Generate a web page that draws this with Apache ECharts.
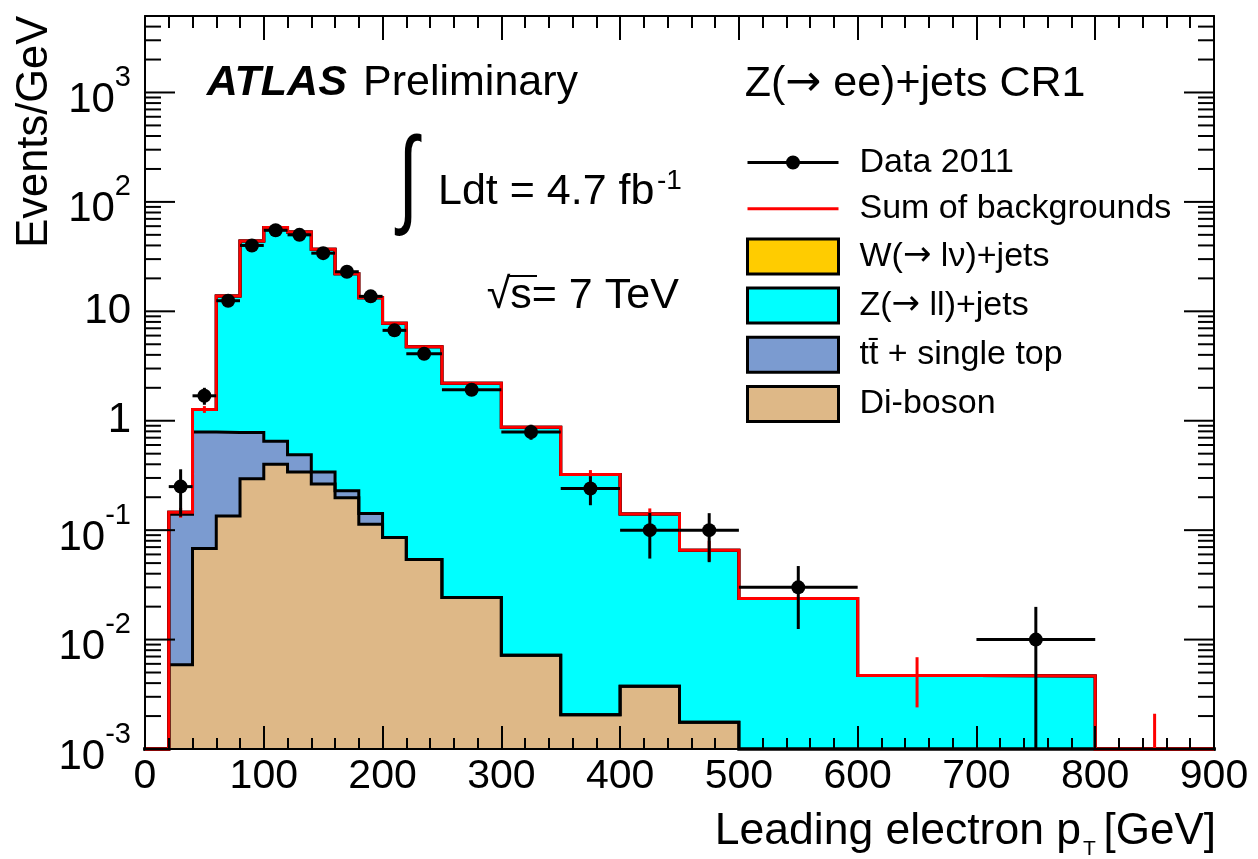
<!DOCTYPE html>
<html><head><meta charset="utf-8">
<script src="https://cdn.jsdelivr.net/npm/echarts@6/dist/echarts.min.js"></script>
<style>html,body{margin:0;padding:0;background:#fff}#c{width:1258px;height:859px}</style>
</head><body><div id="c"></div>
<script>
// ---- data (Events/GeV) ----
const binEdges = [20,40,60,80,100,120,140,160,180,200,220,250,300,350,400,450,500,600,700,800,900];
const diboson = [0.0059,0.068,0.135,0.295,0.40,0.34,0.264,0.198,0.113,0.0857,0.054,0.0242,0.0072,0.00206,0.00374,0.00176,0,0,0,0];
const ttbar   = [0.134,0.722,0.645,0.485,0.248,0.15,0.076,0.031,0.029,0,0,0,0,0,0,0,0,0,0,0];
const zjets   = [0.006,0.48,13.02,43.2,57.65,52.5,36.66,21.87,13.16,7.71,4.70,2.18,0.863,0.321,0.137,0.0637,0.0237,0.0047,0.00465,0];
const wjets   = [0,0,0,0,0,0,0,0,0,0,0,0,0,0,0,0,0,0,0,0];

const dataX  = [30,50,70,90,110,130,150,170,190,210,235,275,325,375,425,475,550,750];
const dataY  = [0.25,1.69,12.5,40,55,50,34,23,13.7,6.7,4.1,1.92,0.79,0.24,0.10,0.10,0.030,0.010];
const dataLo = [0.133,1.40,11.8,38.6,53.3,48.4,32.7,21.9,12.9,6.1,3.73,1.72,0.67,0.169,0.055,0.051,0.0125,0.0005];
const dataHi = [0.36,2.0,13.3,41.4,56.7,51.6,35.3,24.1,14.5,7.3,4.47,2.12,0.92,0.311,0.144,0.143,0.047,0.0199];

const mcErrX  = [30,50,375,425,475,650,850];
const mcErrLo = [0.13,1.18,0.29,0.124,0.052,0.0024,0.0005];
const mcErrHi = [0.16,1.36,0.354,0.158,0.08,0.0069,0.0021];

const xTickLabels = ['0','100','200','300','400','500','600','700','800','900'];
const yMajorTicks = [0.001,0.01,0.1,1,10,100,1000];

const YMIN = 0.001, YMAX = 5000, XMIN = 0, XMAX = 900;
const FONT = '"Liberation Sans", Arial, Helvetica, sans-serif';
const AFONT = '"DejaVu Sans", sans-serif';

// ---- helpers ----
function cumulative(...arrs){ return arrs[0].map((_, i) => arrs.reduce((s, a) => s + a[i], 0)); }
function stepData(vals){
  const d = [[XMIN, YMIN]];
  vals.forEach((v, i) => d.push([binEdges[i], Math.max(v, YMIN)]));
  d.push([binEdges[binEdges.length - 1], Math.max(vals[vals.length - 1], YMIN)]);
  d.push([XMAX, YMIN]);
  return d;
}
function binOf(x){ for (let i = 0; i < binEdges.length - 1; i++) if (x >= binEdges[i] && x < binEdges[i+1]) return i; return -1; }

const cDb = cumulative(diboson);
const cTt = cumulative(diboson, ttbar);
const cZ  = cumulative(diboson, ttbar, zjets);
const cW  = cumulative(diboson, ttbar, zjets, wjets);

const yMinorTicks = [];
yMajorTicks.forEach(d => { for (let m = 2; m <= 9; m++) { const v = m * d; if (v < YMAX) yMinorTicks.push(v); } });

function histSeries(name, vals, fill, lineColor){
  return {
    name, type: 'line', step: 'end', data: stepData(vals), symbol: 'none', showSymbol: false,
    clip: false, silent: true,
    lineStyle: { color: lineColor, width: 3, join: 'miter', cap: 'square' },
    itemStyle: { color: fill },
    areaStyle: { color: fill, opacity: 1, origin: 'start' },
    z: 2
  };
}

const LINE_ICON = 'path://M0,0 L91,0 L91,3 L0,3 Z';
const DATA_ICON = 'path://M0,6 L91,6 L91,9 L0,9 Z M38.5,7.5 A7,7 0 1,1 52.5,7.5 A7,7 0 1,1 38.5,7.5 Z';

const labelFmt = v => {
  const lg = Math.log10(v), k = Math.round(lg);
  if (Math.abs(lg - k) > 1e-6) return '';
  if (k === 0) return '1';
  if (k === 1) return '10';
  return '{b|10}{s|' + k + '}';
};
const arrowFmt = name => name.replace('→', '{ar|→}');

const xAxisBase = {
  type: 'value', min: XMIN, max: XMAX, interval: 100, z: 10,
  axisLine: { show: true, onZero: false, lineStyle: { color: '#000', width: 2 } },
  splitLine: { show: false }, minorSplitLine: { show: false }
};

const option = {
  animation: false,
  backgroundColor: '#fff',
  grid: { left: 145, right: 44, top: 16, bottom: 110, containLabel: false },
  xAxis: [
    Object.assign({}, xAxisBase, {
      position: 'bottom',
      axisTick: { show: true, inside: true, length: 23, lineStyle: { color: '#000', width: 2 } },
      minorTick: { show: true, splitNumber: 5, length: 11, lineStyle: { color: '#000', width: 2 } },
      axisLabel: { show: true, margin: 7, fontSize: 41, fontFamily: FONT, color: '#000',
        formatter: v => xTickLabels[Math.round(v / 100)] }
    }),
    Object.assign({}, xAxisBase, {
      position: 'top',
      axisTick: { show: true, inside: true, length: 24, lineStyle: { color: '#000', width: 2 } },
      minorTick: { show: true, splitNumber: 5, length: 12, lineStyle: { color: '#000', width: 2 } },
      axisLabel: { show: false }
    })
  ],
  yAxis: [
    { type: 'log', logBase: 10, min: YMIN, max: YMAX, position: 'left', z: 10, splitNumber: 7,
      axisLine: { show: true, onZero: false, lineStyle: { color: '#000', width: 2 } },
      axisTick: { show: false }, splitLine: { show: false },
      axisLabel: { show: true, margin: 14, fontSize: 42, fontFamily: FONT, color: '#000', formatter: labelFmt,
        rich: {
          b: { fontSize: 42, fontFamily: FONT, color: '#000', lineHeight: 58, verticalAlign: 'bottom' },
          s: { fontSize: 29, fontFamily: FONT, color: '#000', lineHeight: 29, verticalAlign: 'top' }
        } } },
    { type: 'log', logBase: 10, min: YMIN, max: YMAX, position: 'right', z: 10,
      axisLine: { show: true, onZero: false, lineStyle: { color: '#000', width: 2 } },
      axisTick: { show: false }, splitLine: { show: false }, axisLabel: { show: false } }
  ],
  legend: {
    orient: 'vertical', left: 746, top: 145, padding: 0,
    itemWidth: 91, itemHeight: 35, itemGap: 11.2, selectedMode: false,
    formatter: arrowFmt,
    textStyle: { fontSize: 34, lineHeight: 35, fontFamily: FONT, color: '#000', padding: [0, 0, 0, 16],
      rich: { ar: { fontSize: 34, lineHeight: 35, fontFamily: AFONT, color: '#000' } } },
    data: [
      { name: 'Data 2011', icon: DATA_ICON, itemStyle: { color: '#000', borderWidth: 0 } },
      { name: 'Sum of backgrounds', icon: LINE_ICON, itemStyle: { color: '#ff0000', borderWidth: 0 } },
      { name: 'W(→ lν)+jets', icon: 'rect', itemStyle: { color: '#ffcc00', borderColor: '#000', borderWidth: 3 } },
      { name: 'Z(→ ll)+jets', icon: 'rect', itemStyle: { color: '#00ffff', borderColor: '#000', borderWidth: 3 } },
      { name: 'tt\u0304 + single top', icon: 'rect', itemStyle: { color: '#7b9bd0', borderColor: '#000', borderWidth: 3 } },
      { name: 'Di-boson', icon: 'rect', itemStyle: { color: '#deb887', borderColor: '#000', borderWidth: 3 } }
    ]
  },
  series: [
    histSeries('W(→ lν)+jets', cW, '#ffcc00', '#000'),
    histSeries('Z(→ ll)+jets', cZ, '#00ffff', '#000'),
    histSeries('tt\u0304 + single top', cTt, '#7b9bd0', '#000'),
    histSeries('Di-boson', cDb, '#deb887', '#000'),
    {
      name: 'Sum of backgrounds', type: 'line', step: 'end', data: stepData(cW), symbol: 'none',
      clip: false, silent: true, z: 3,
      lineStyle: { color: '#ff0000', width: 3, join: 'miter' }, itemStyle: { color: '#ff0000' }
    },
    {
      name: 'mcerr', type: 'custom', z: 4, silent: true, clip: false,
      data: mcErrX.map((x, i) => [x, mcErrLo[i], mcErrHi[i]]),
      encode: { x: 0, y: 1 },
      renderItem: (params, api) => {
        const x = api.value(0);
        const b = api.coord([x, Math.max(api.value(1), YMIN)]);
        const t = api.coord([x, api.value(2)]);
        return { type: 'line', shape: { x1: b[0], y1: b[1], x2: t[0], y2: t[1] },
          style: { stroke: '#ff0000', lineWidth: 3 } };
      }
    },
    {
      name: 'Data 2011', type: 'custom', z: 6, silent: true, clip: false,
      itemStyle: { color: '#000' },
      data: dataX.map((x, i) => { const k = binOf(x); return [x, dataY[i], binEdges[k], binEdges[k+1], dataLo[i], dataHi[i]]; }),
      encode: { x: 0, y: 1 },
      renderItem: (params, api) => {
        const x = api.value(0), y = api.value(1);
        const c = api.coord([x, y]);
        const l = api.coord([api.value(2), y]);
        const r = api.coord([api.value(3), y]);
        const t = api.coord([x, api.value(5)]);
        const b = api.coord([x, Math.max(api.value(4), YMIN)]);
        return { type: 'group', children: [
          { type: 'line', shape: { x1: l[0], y1: l[1], x2: r[0], y2: r[1] }, style: { stroke: '#000', lineWidth: 3 } },
          { type: 'line', shape: { x1: t[0], y1: t[1], x2: b[0], y2: b[1] }, style: { stroke: '#000', lineWidth: 3 } },
          { type: 'circle', shape: { cx: c[0], cy: c[1], r: 7 }, style: { fill: '#000' } }
        ] };
      }
    },
    {
      name: 'yticks', type: 'custom', z: 12, silent: true, clip: false,
      data: yMajorTicks.map(v => [XMIN, v, 1]).concat(yMinorTicks.map(v => [XMIN, v, 0])),
      encode: { x: 0, y: 1 },
      renderItem: (params, api) => {
        const v = api.value(1), len = api.value(2) ? 30 : 16;
        const p0 = api.coord([XMIN, v]), p1 = api.coord([XMAX, v]);
        return { type: 'group', children: [
          { type: 'line', shape: { x1: p0[0], y1: p0[1], x2: p0[0] + len, y2: p0[1] }, style: { stroke: '#000', lineWidth: 2 } },
          { type: 'line', shape: { x1: p1[0] - len, y1: p1[1], x2: p1[0], y2: p1[1] }, style: { stroke: '#000', lineWidth: 2 } }
        ] };
      }
    }
  ],
  graphic: [
    { type: 'text', x: 35.3, y: 15.7, rotation: Math.PI / 2,
      style: { text: 'Events/GeV', font: '43.5px ' + FONT, fill: '#000', align: 'right', verticalAlign: 'middle' } },
    { type: 'text', x: 1081, y: 831.5,
      style: { text: 'Leading electron p', font: '44.5px ' + FONT, fill: '#000', align: 'right', verticalAlign: 'middle' } },
    { type: 'text', x: 1083, y: 849.5,
      style: { text: 'T', font: '21px ' + FONT, fill: '#000', align: 'left', verticalAlign: 'middle' } },
    { type: 'text', x: 1216, y: 831.5,
      style: { text: '[GeV]', font: '44px ' + FONT, fill: '#000', align: 'right', verticalAlign: 'middle' } },
    { type: 'text', x: 206.7, y: 83.3,
      style: { text: 'ATLAS', font: 'italic bold 43px ' + FONT, fill: '#000', align: 'left', verticalAlign: 'middle' } },
    { type: 'text', x: 363, y: 83.3,
      style: { text: 'Preliminary', font: '43px ' + FONT, fill: '#000', align: 'left', verticalAlign: 'middle' } },
    { type: 'text', x: 408, y: 183, scaleY: 1.5, originX: 0, originY: 0,
      style: { text: '∫', font: '72px ' + FONT, fill: '#000', align: 'center', verticalAlign: 'middle' } },
    { type: 'text', x: 438, y: 192.5,
      style: { text: 'Ldt = 4.7 fb', font: '43px ' + FONT, fill: '#000', align: 'left', verticalAlign: 'middle' } },
    { type: 'text', x: 657, y: 181,
      style: { text: '-1', font: '28px ' + FONT, fill: '#000', align: 'left', verticalAlign: 'middle' } },
    { type: 'text', x: 486.7, y: 296,
      style: { text: '√s= 7 TeV', font: '43px ' + FONT, fill: '#000', align: 'left', verticalAlign: 'middle' } },
    { type: 'line', shape: { x1: 508, y1: 276, x2: 537, y2: 276 }, style: { stroke: '#000', lineWidth: 2 } },
    { type: 'text', x: 744.7, y: 84.2,
      style: { text: 'Z({ar|→} ee)+jets CR1', font: '43px ' + FONT, fill: '#000', align: 'left', verticalAlign: 'middle',
        rich: { ar: { fontSize: 43, fontFamily: AFONT, fill: '#000' } } } }
  ]
};

const chart = echarts.init(document.getElementById('c'), null, { renderer: 'canvas' });
chart.setOption(option);
</script>
</body></html>
